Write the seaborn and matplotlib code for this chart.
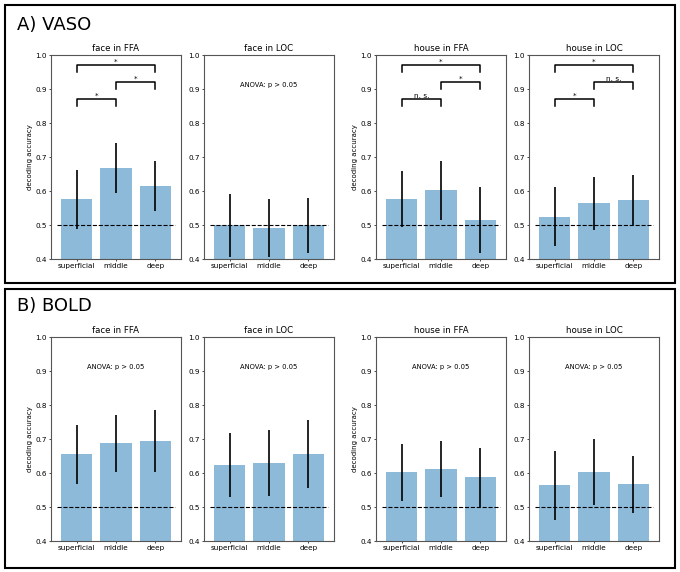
import numpy as np
import pandas as pd
import matplotlib
matplotlib.use('Agg')
import matplotlib.pyplot as plt
from matplotlib.patches import Rectangle
import seaborn as sns

# Categories and panel titles
layers = ['superficial', 'middle', 'deep']
panel_titles = ['face in FFA', 'face in LOC', 'house in FFA', 'house in LOC']

# VASO decoding accuracy (mean, error)
vaso_face_ffa = [0.576, 0.667, 0.615]
vaso_face_ffa_err = [0.087, 0.074, 0.073]
vaso_face_loc = [0.499, 0.491, 0.499]
vaso_face_loc_err = [0.092, 0.086, 0.080]
vaso_house_ffa = [0.577, 0.602, 0.516]
vaso_house_ffa_err = [0.082, 0.086, 0.097]
vaso_house_loc = [0.525, 0.564, 0.573]
vaso_house_loc_err = [0.087, 0.078, 0.073]

# BOLD decoding accuracy (mean, error)
bold_face_ffa = [0.655, 0.687, 0.693]
bold_face_ffa_err = [0.087, 0.084, 0.091]
bold_face_loc = [0.623, 0.629, 0.656]
bold_face_loc_err = [0.094, 0.097, 0.100]
bold_house_ffa = [0.602, 0.611, 0.587]
bold_house_ffa_err = [0.083, 0.083, 0.088]
bold_house_loc = [0.564, 0.604, 0.567]
bold_house_loc_err = [0.101, 0.097, 0.084]

# significance labels for pairs (superficial-deep, middle-deep, superficial-middle)
sig_pairs = [(0, 2), (1, 2), (0, 1)]
vaso_sig = [['*', '*', '*'], None, ['*', '*', 'n. s.'], ['*', 'n. s.', '*']]
bold_sig = [None, None, None, None]

chance = 0.5
anova_text = 'ANOVA: p > 0.05'

vaso_means = [vaso_face_ffa, vaso_face_loc, vaso_house_ffa, vaso_house_loc]
vaso_errs = [vaso_face_ffa_err, vaso_face_loc_err, vaso_house_ffa_err, vaso_house_loc_err]
bold_means = [bold_face_ffa, bold_face_loc, bold_house_ffa, bold_house_loc]
bold_errs = [bold_face_ffa_err, bold_face_loc_err, bold_house_ffa_err, bold_house_loc_err]

W, H = 680, 572
fig = plt.figure(figsize=(W / 100, H / 100), dpi=100)

bar_color = '#8dbad9'
col_lefts = [51, 204, 376, 529]
ax_w = 130
ax_h = 204
row_tops = [55, 337]


def px_rect(left, top, w, h):
    return [left / W, 1 - (top + h) / H, w / W, h / H]


def draw_panel(ax, means, errs, title, sig, show_ylabel):
    df = pd.DataFrame({'layer': layers, 'acc': means})
    sns.barplot(data=df, x='layer', y='acc', order=layers, color=bar_color,
                saturation=1, errorbar=None, width=0.8, linewidth=0, ax=ax)
    ax.errorbar(np.arange(len(layers)), means, yerr=errs, fmt='none',
                ecolor='black', elinewidth=1.2, capsize=0, zorder=3)
    ax.plot([-0.5, 2.5], [chance, chance], color='black', ls='--', lw=0.8, zorder=4)
    ax.set_xlim(-0.65, 2.65)
    ax.set_ylim(0.4, 1.0)
    ax.set_yticks(np.arange(0.4, 1.01, 0.1))
    ax.set_yticklabels([f'{v:.1f}' for v in np.arange(0.4, 1.01, 0.1)])
    ax.set_xlabel('')
    ax.set_ylabel('decoding accuracy' if show_ylabel else '', fontsize=5.0, labelpad=2)
    ax.set_title(title, fontsize=6.2, pad=3)
    ax.tick_params(labelsize=5.2, length=1.5, width=0.5, pad=1.5)
    for s in ax.spines.values():
        s.set_color('#555555')
        s.set_linewidth(0.8)

    if sig is None:
        ax.text(1, 0.912, anova_text, ha='center', va='center', fontsize=4.9)
    else:
        levels = [0.97, 0.92, 0.87]
        for (a, b), lab, y in zip(sig_pairs, sig, levels):
            ax.plot([a, a, b, b], [y - 0.02, y, y, y - 0.02], color='black', lw=1.1)
            ax.text((a + b) / 2, y + 0.001, lab, ha='center', va='bottom', fontsize=5.3)


for r, (means_row, errs_row, sig_row) in enumerate(
        [(vaso_means, vaso_errs, vaso_sig), (bold_means, bold_errs, bold_sig)]):
    for c in range(4):
        ax = fig.add_axes(px_rect(col_lefts[c], row_tops[r], ax_w, ax_h))
        draw_panel(ax, means_row[c], errs_row[c], panel_titles[c], sig_row[c],
                   show_ylabel=(c in (0, 2)))

# section frames and labels
fig.patches.append(Rectangle((5 / W, 1 - 283 / H), 670 / W, 278 / H, transform=fig.transFigure,
                             fill=False, ec='black', lw=1.5))
fig.patches.append(Rectangle((5 / W, 1 - 568 / H), 670 / W, 279 / H, transform=fig.transFigure,
                             fill=False, ec='black', lw=1.5))
fig.text(17 / W, 1 - 25 / H, 'A) VASO', fontsize=13, ha='left', va='center')
fig.text(17 / W, 1 - 306 / H, 'B) BOLD', fontsize=13, ha='left', va='center')

fig.savefig('out.png', dpi=100)
